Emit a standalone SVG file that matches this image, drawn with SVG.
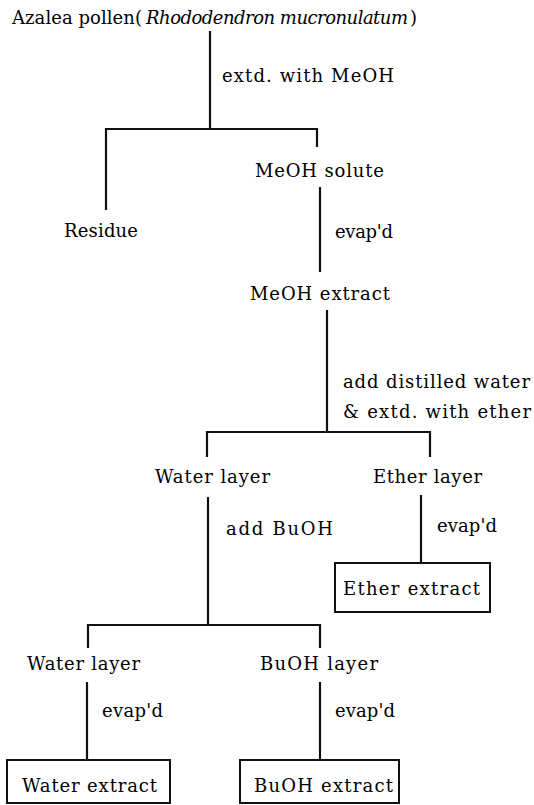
<svg xmlns="http://www.w3.org/2000/svg" width="534" height="805" viewBox="0 0 534 805">
<style>
text{font-family:"DejaVu Serif","Liberation Serif",serif;font-size:18px;fill:#000}
.it{font-style:italic}
.ln{stroke:#111;stroke-width:2.2;fill:none}
.bx{stroke:#111;stroke-width:2;fill:#fff}
</style>
<rect width="534" height="805" fill="#fff"/>
<g id="connectors">
<path class="ln" d="M210 31V129"/>
<path class="ln" d="M106 210V129H317V147"/>
<path class="ln" d="M320 187V272"/>
<path class="ln" d="M327 310V432"/>
<path class="ln" d="M207 457V432H430V457"/>
<path class="ln" d="M208 497V625"/>
<path class="ln" d="M88 648V625H320V648"/>
<path class="ln" d="M421 495V563"/>
<path class="ln" d="M87 682V760"/>
<path class="ln" d="M320 682V760"/>
</g>
<g id="labels">
<text x="222" y="82" textLength="172" lengthAdjust="spacing">extd. with MeOH</text>
<text x="335" y="238" textLength="58" lengthAdjust="spacing">evap'd</text>
<text x="343" y="388" textLength="187" lengthAdjust="spacing">add distilled water</text>
<text x="343" y="418" textLength="188" lengthAdjust="spacing">&amp; extd. with ether</text>
<text x="226" y="535" textLength="107" lengthAdjust="spacing">add BuOH</text>
<text x="437" y="532" textLength="60" lengthAdjust="spacing">evap'd</text>
<text x="102" y="717" textLength="61" lengthAdjust="spacing">evap'd</text>
<text x="335" y="717" textLength="60" lengthAdjust="spacing">evap'd</text>
</g>
<g id="pollen">
<text x="12" y="24" textLength="130" lengthAdjust="spacing">Azalea pollen(</text>
<text class="it" x="146" y="24" textLength="262" lengthAdjust="spacing">Rhododendron mucronulatum</text>
<text x="410" y="24">)</text>
</g>
<g id="residue"><text x="64" y="237" textLength="74" lengthAdjust="spacing">Residue</text></g>
<g id="meoh-solute"><text x="255" y="177" textLength="129" lengthAdjust="spacing">MeOH solute</text></g>
<g id="meoh-extract"><text x="250" y="300" textLength="140" lengthAdjust="spacing">MeOH extract</text></g>
<g id="water-layer-1"><text x="155" y="483" textLength="115" lengthAdjust="spacing">Water layer</text></g>
<g id="ether-layer"><text x="373" y="483" textLength="109" lengthAdjust="spacing">Ether layer</text></g>
<g id="ether-extract">
<rect class="bx" x="335" y="563" width="155" height="49"/>
<text x="343" y="595" textLength="137" lengthAdjust="spacing">Ether extract</text>
</g>
<g id="water-layer-2"><text x="27" y="670" textLength="113" lengthAdjust="spacing">Water layer</text></g>
<g id="buoh-layer"><text x="260" y="670" textLength="118" lengthAdjust="spacing">BuOH layer</text></g>
<g id="water-extract">
<rect class="bx" x="7" y="760" width="163" height="43"/>
<text x="22" y="792" textLength="135" lengthAdjust="spacing">Water extract</text>
</g>
<g id="buoh-extract">
<rect class="bx" x="240" y="760" width="159" height="43"/>
<text x="254" y="792" textLength="139" lengthAdjust="spacing">BuOH extract</text>
</g>
</svg>
